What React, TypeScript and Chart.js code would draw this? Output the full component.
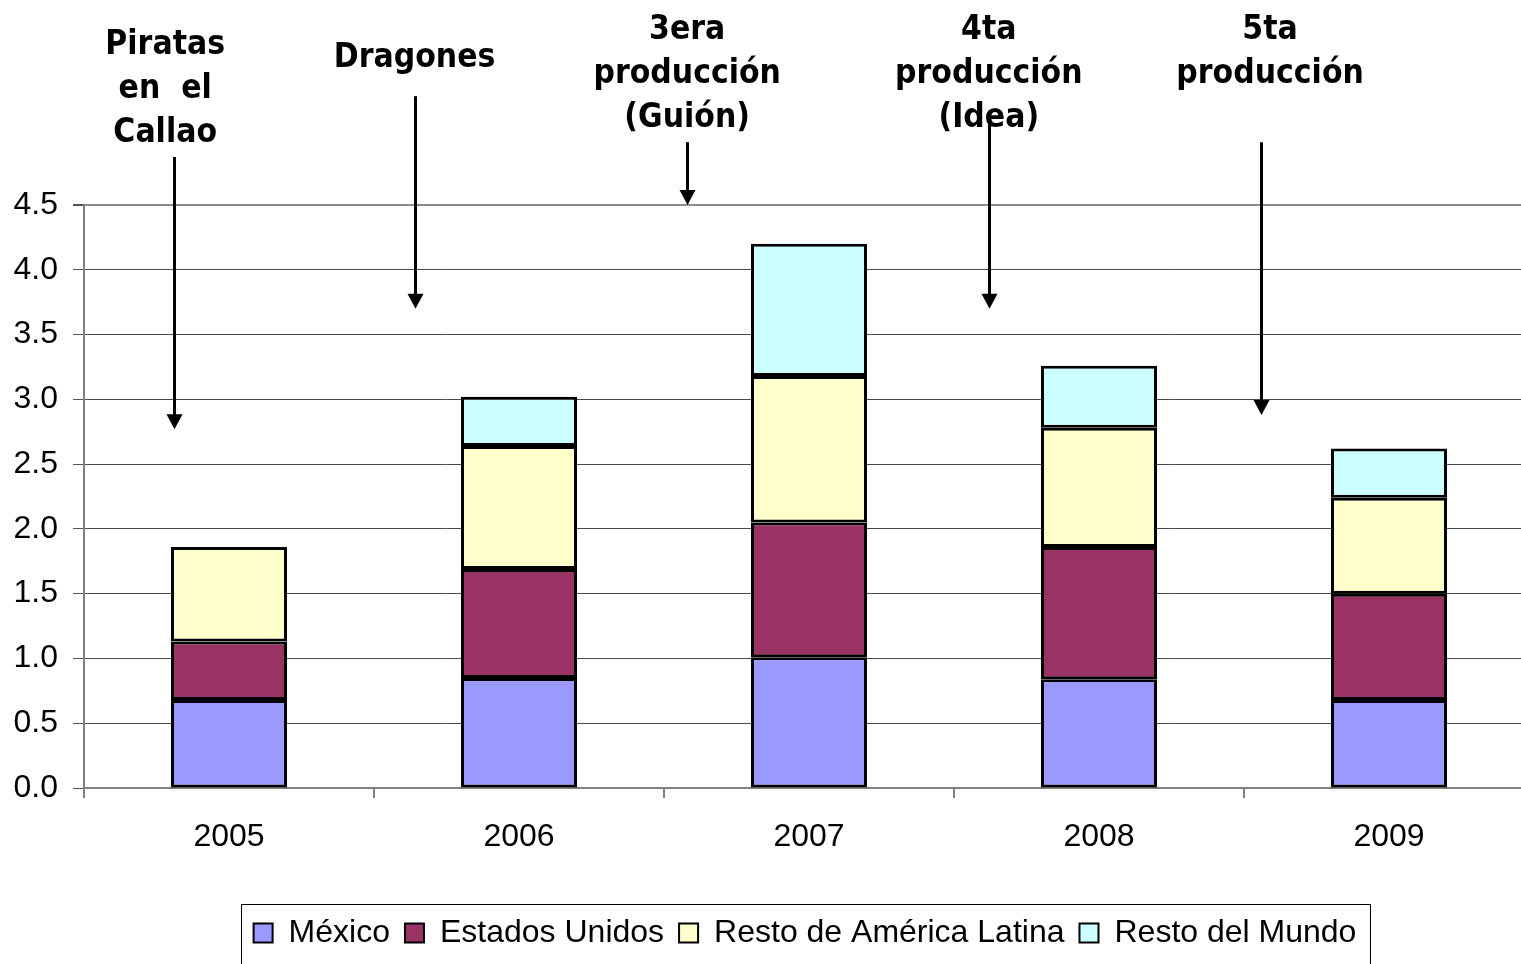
import React, { useEffect, useRef } from "react";
import { Chart, registerables } from "chart.js";

Chart.register(...registerables);

// Categorías y series (millones)
const years = ["2005", "2006", "2007", "2008", "2009"];
const mexico = [0.68, 0.85, 1.01, 0.84, 0.68];
const estadosUnidos = [0.45, 0.84, 1.04, 1.02, 0.82];
const restoAmericaLatina = [0.73, 0.95, 1.13, 0.92, 0.74];
const restoMundo = [null, 0.38, 1.02, 0.48, 0.38];

const seriesNames = ["México", "Estados Unidos", "Resto de América Latina", "Resto del Mundo"];
const seriesColors = ["#9999FF", "#993366", "#FFFFCC", "#CCFFFF"];

// Hitos: texto, posición del texto (índice de categoría, valor del eje y)
const hitoLabels = [
  ["Piratas", "en  el", "Callao"],
  ["Dragones"],
  ["3era", "producción", "(Guión)"],
  ["4ta", "producción", "(Idea)"],
  ["5ta", "producción"],
];
const hitoTextX = [-0.22, 0.64, 1.58, 2.62, 3.59];
const hitoTextY = [5.734, 5.634, 5.85, 5.85, 5.85];
// Flechas: x en índice de categoría, desde / hasta en valores del eje y
const flechaX = [-0.19, 0.64, 1.58, 2.62, 3.56];
const flechaDesde = [4.87, 5.34, 4.985, 5.16, 4.985];
const flechaHasta = [2.77, 3.7, 4.5, 3.7, 2.88];

const CANVAS_W = 1610;
const CANVAS_H = 980;
const LEGEND_PAD = 15;

const hitosPlugin = {
  id: "hitos",
  afterDraw(chart: any) {
    const { ctx } = chart;
    const xs = chart.scales.x;
    const ys = chart.scales.y;
    ctx.save();
    // textos
    ctx.fillStyle = "#000";
    ctx.font = "bold 30px 'DejaVu Sans'";
    ctx.textAlign = "center";
    ctx.textBaseline = "middle";
    hitoLabels.forEach((lines, i) => {
      const cx = xs.getPixelForValue(hitoTextX[i]);
      const y0 = ys.getPixelForValue(hitoTextY[i]);
      lines.forEach((line, j) => {
        ctx.save();
        ctx.translate(cx, y0 + j * 44);
        ctx.scale(1, 1.15);
        ctx.fillText(line, 0, 0);
        ctx.restore();
      });
    });
    // flechas
    ctx.strokeStyle = "#000";
    ctx.lineWidth = 3;
    flechaX.forEach((fx, i) => {
      const x = Math.round(xs.getPixelForValue(fx)) + 0.5;
      const y1 = ys.getPixelForValue(flechaDesde[i]);
      const y2 = ys.getPixelForValue(flechaHasta[i]);
      ctx.beginPath();
      ctx.moveTo(x, y1);
      ctx.lineTo(x, y2 - 12);
      ctx.stroke();
      ctx.beginPath();
      ctx.moveTo(x - 8, y2 - 15);
      ctx.lineTo(x + 8, y2 - 15);
      ctx.lineTo(x, y2);
      ctx.closePath();
      ctx.fill();
    });
    // marco de la leyenda
    const legend = chart.legend;
    if (legend && legend.legendHitBoxes && legend.legendHitBoxes.length) {
      const boxes = legend.legendHitBoxes;
      const left = Math.min(...boxes.map((b: any) => b.left)) - 13;
      const right = Math.max(...boxes.map((b: any) => b.left + b.width)) + 13;
      ctx.lineWidth = 1;
      ctx.strokeStyle = "#000";
      ctx.strokeRect(Math.round(left) + 0.5, 904.5, Math.round(right - left), 70);
    }
    ctx.restore();
  },
};

export default function App() {
  const canvasRef = useRef<HTMLCanvasElement | null>(null);

  useEffect(() => {
    if (!canvasRef.current) return;
    const seriesData = [mexico, estadosUnidos, restoAmericaLatina, restoMundo];
    const chart = new Chart(canvasRef.current, {
      type: "bar",
      data: {
        labels: years,
        datasets: seriesNames.map((name, i) => ({
          label: name,
          data: seriesData[i],
          backgroundColor: seriesColors[i],
          borderColor: "#000",
          borderWidth: 3,
          borderSkipped: false,
          barPercentage: 1,
          categoryPercentage: 0.4,
        })),
      },
      options: {
        responsive: false,
        animation: false,
        devicePixelRatio: 1,
        layout: { padding: { top: 205, right: 0, left: 0, bottom: 21 } },
        scales: {
          x: {
            stacked: true,
            afterFit: (scale: any) => {
              scale.height = 129 - LEGEND_PAD;
            },
            grid: {
              drawOnChartArea: false,
              drawTicks: true,
              tickLength: 10,
              color: "#808080",
              lineWidth: 2,
            },
            border: { display: true, color: "#808080", width: 2 },
            ticks: {
              color: "#000",
              padding: 20,
              font: { family: "'Liberation Sans', Arial, sans-serif", size: 32 },
            },
          },
          y: {
            stacked: true,
            min: 0,
            max: 4.5,
            afterFit: (scale: any) => {
              scale.width = 84;
            },
            grid: {
              color: (c: any) => (c.tick && c.tick.value === 4.5 ? "#8c8c8c" : "#4a4a4a"),
              lineWidth: (c: any) => (c.tick && c.tick.value === 4.5 ? 2 : 1),
              tickLength: 11,
              tickColor: "#555",
            },
            border: { display: true, color: "#808080", width: 2 },
            ticks: {
              stepSize: 0.5,
              color: "#000",
              padding: 15,
              font: { family: "'Liberation Sans', Arial, sans-serif", size: 32 },
              callback: (v: any) => Number(v).toFixed(1),
            },
          },
          // margen derecho del área de trazado (eje sin marcas)
          margenDerecho: {
            type: "linear",
            position: "right",
            display: true,
            afterFit: (scale: any) => {
              scale.width = 76;
            },
            grid: { display: false, drawTicks: false },
            border: { display: false },
            ticks: { display: false },
          },
        },
        plugins: {
          tooltip: { enabled: false },
          legend: {
            position: "bottom",
            labels: {
              color: "#000",
              boxWidth: 19,
              boxHeight: 19,
              padding: LEGEND_PAD,
              font: { family: "'Liberation Sans', Arial, sans-serif", size: 32 },
              generateLabels: (ch: any) =>
                (Chart.defaults.plugins.legend.labels as any)
                  .generateLabels(ch)
                  .map((l: any) => ({ ...l, lineWidth: 2 })),
            },
          },
        },
      } as any,
      plugins: [hitosPlugin],
    });
    return () => chart.destroy();
  }, []);

  return (
    <div
      style={{
        position: "fixed",
        left: 0,
        top: 0,
        width: 1521,
        height: 964,
        overflow: "hidden",
        background: "#fff",
      }}
    >
      <canvas ref={canvasRef} width={CANVAS_W} height={CANVAS_H} style={{ display: "block" }} />
    </div>
  );
}
